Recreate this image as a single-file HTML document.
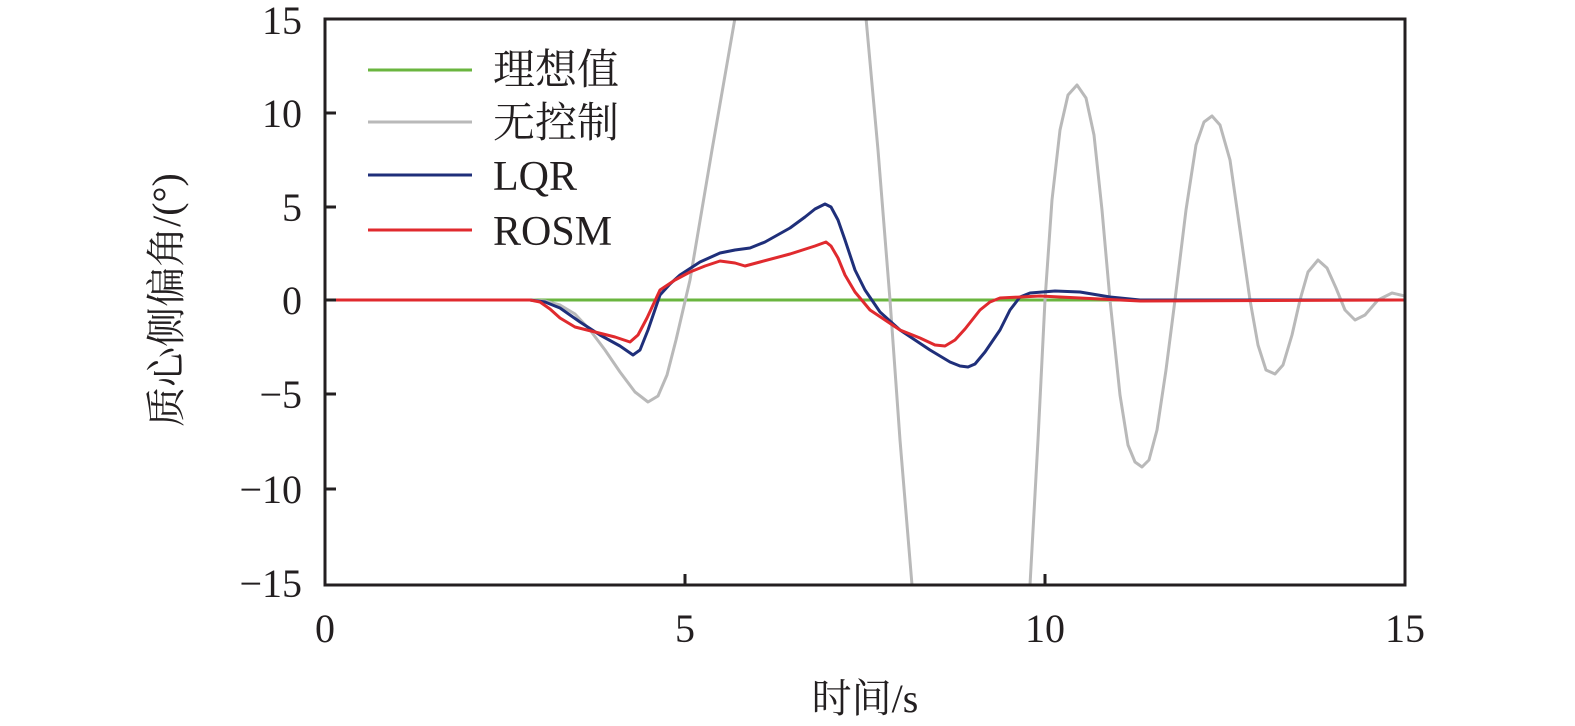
<!DOCTYPE html>
<html><head><meta charset="utf-8"><style>
html,body{margin:0;padding:0;background:#fff;overflow:hidden;width:1575px;height:726px}
svg{display:block}
svg text{font-family:"Liberation Serif","Noto Serif CJK SC",serif;fill:#231f20}
</style></head><body>
<svg width="1575" height="726" viewBox="0 0 1575 726" xmlns="http://www.w3.org/2000/svg">
<defs><clipPath id="c"><rect x="325" y="19" width="1080" height="566"/></clipPath></defs>
<g clip-path="url(#c)" fill="none" stroke-width="3" stroke-linejoin="round">
<polyline stroke="#6ab53f" points="325,300 1405,300"/>
<polyline stroke="#b9b9b9" points="324,300 530,300 545,301 560,305 575,314 590,330 605,350 620,372 635,392 648,402 658,396 667,375 676,340 690,280 712,150 735,18 760,-100 840,-100 866,18 878,150 890,300 900,440 912,585 930,800 1010,800 1030,585 1038,440 1045,300 1052,200 1060,130 1068,95 1077,85 1086,98 1094,135 1102,210 1110,300 1120,395 1128,445 1135,462 1142,467 1149,460 1157,430 1166,370 1175,300 1186,210 1196,145 1204,122 1212,116 1220,125 1230,160 1240,230 1250,300 1258,345 1266,370 1275,374 1283,365 1292,335 1300,300 1308,272 1318,260 1327,268 1336,288 1345,310 1355,320 1365,315 1378,300 1392,293 1405,296"/>
<polyline stroke="#1f2f7a" points="324,300 530,300 545,302 560,308 580,322 600,335 620,346 633,355 640,350 648,330 660,295 670,284 680,275 700,262 720,253 735,250 750,248 765,242 790,228 805,217 815,209 825,204 831,207 838,220 845,240 855,270 865,290 880,312 900,330 930,350 950,362 960,366 968,367 975,364 985,352 1000,330 1010,310 1020,297 1030,293 1055,291 1080,292 1110,297 1140,300 1405,300"/>
<polyline stroke="#e02a2e" points="324,300 530,300 540,302 550,309 560,318 575,327 595,332 615,337 630,342 638,335 647,318 660,290 675,280 690,272 705,266 720,261 735,263 745,266 760,262 790,254 815,246 826,242 831,246 838,258 845,275 855,292 870,310 900,330 920,338 935,345 945,346 955,340 965,329 980,310 990,302 1000,298 1040,296 1080,298 1140,301 1405,300"/>
</g>
<rect x="325" y="19" width="1080" height="566" fill="none" stroke="#231f20" stroke-width="3"/>
<g stroke="#231f20" stroke-width="3">
<line x1="685" y1="585" x2="685" y2="574"/><line x1="1045" y1="585" x2="1045" y2="574"/>
<line x1="325" y1="113" x2="336" y2="113"/><line x1="325" y1="207" x2="336" y2="207"/><line x1="325" y1="300" x2="336" y2="300"/><line x1="325" y1="394" x2="336" y2="394"/><line x1="325" y1="489" x2="336" y2="489"/>
</g>
<g font-size="40" text-anchor="end">
<text x="302" y="34">15</text><text x="302" y="127">10</text><text x="302" y="221">5</text><text x="302" y="314">0</text><text x="302" y="408">−5</text><text x="302" y="503">−10</text><text x="302" y="597">−15</text>
</g>
<g font-size="40" text-anchor="middle">
<text x="325" y="642">0</text><text x="685" y="642">5</text><text x="1045" y="642">10</text><text x="1405" y="642">15</text>
<text x="865" y="712">时间/s</text>
<text transform="translate(180,300) rotate(-90)">质心侧偏角/(°)</text>
</g>
<g stroke-width="3">
<line x1="368" y1="70" x2="472" y2="70" stroke="#6ab53f"/>
<line x1="368" y1="122" x2="472" y2="122" stroke="#b9b9b9"/>
<line x1="368" y1="175" x2="472" y2="175" stroke="#1f2f7a"/>
<line x1="368" y1="230" x2="472" y2="230" stroke="#e02a2e"/>
</g>
<g font-size="42">
<text x="493" y="84">理想值</text><text x="493" y="137">无控制</text><text x="493" y="190">LQR</text><text x="493" y="245">ROSM</text>
</g>
</svg>
</body></html>
